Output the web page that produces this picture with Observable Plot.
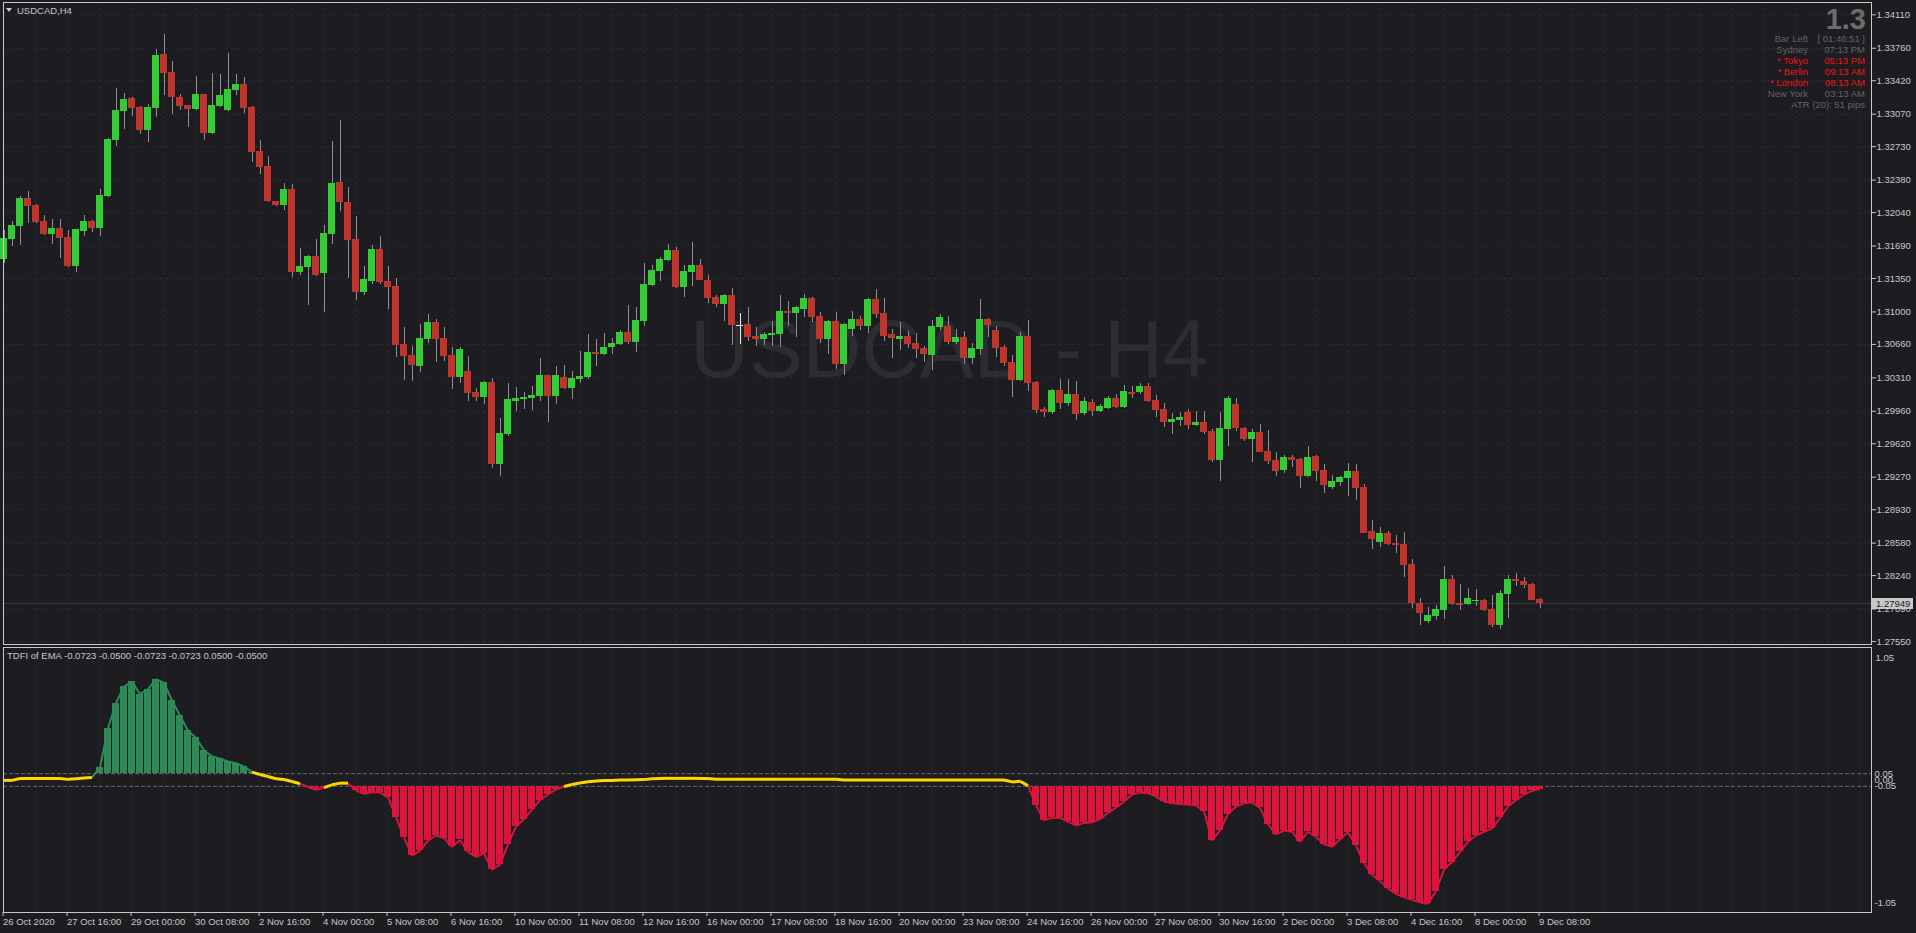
<!DOCTYPE html>
<html><head><meta charset="utf-8">
<script src="https://cdn.jsdelivr.net/npm/d3@7"></script>
<script src="https://cdn.jsdelivr.net/npm/@observablehq/plot@0.6"></script>
<style>
html,body{margin:0;padding:0;background:#1c1c21;}
#wrap{position:relative;width:1916px;height:933px;overflow:hidden;background:#1c1c21;font-family:"Liberation Sans",Arial,sans-serif;}
#wrap svg{position:absolute;left:0;overflow:visible;}
.t{position:absolute;white-space:nowrap;font-size:9.5px;line-height:11px;}
</style></head><body><div id="wrap"></div>
<script>
// ---------- DATA ----------
const symbolTitle = "USDCAD,H4";
const watermark = "USDCAD - H4";
const indicatorTitle = "TDFI of EMA -0.0723 -0.0500 -0.0723 -0.0723 0.0500 -0.0500";
const lastPrice = 1.27949;

const xLabels = ["26 Oct 2020","27 Oct 16:00","29 Oct 00:00","30 Oct 08:00","2 Nov 16:00","4 Nov 00:00","5 Nov 08:00","6 Nov 16:00","10 Nov 00:00","11 Nov 08:00","12 Nov 16:00","16 Nov 00:00","17 Nov 08:00","18 Nov 16:00","20 Nov 00:00","23 Nov 08:00","24 Nov 16:00","26 Nov 00:00","27 Nov 08:00","30 Nov 16:00","2 Dec 00:00","3 Dec 08:00","4 Dec 16:00","8 Dec 00:00","9 Dec 08:00"];
const xLabelBars = [0,8,16,24,32,40,48,56,64,72,80,88,96,104,112,120,128,136,144,152,160,168,176,184,192];

const priceTicks = [1.34110,1.33760,1.33420,1.33070,1.32730,1.32380,1.32040,1.31690,1.31350,1.31000,1.30660,1.30310,1.29960,1.29620,1.29270,1.28930,1.28580,1.28240,1.27890,1.27550];

const open = [1.31549,1.31758,1.31894,1.32187,1.32114,1.31947,1.31811,1.31873,1.31779,1.31476,
1.31842,1.31947,1.31873,1.32208,1.32794,1.33098,1.33234,1.33140,1.32899,1.33129,
1.33695,1.33506,1.33245,1.33161,1.33119,1.33276,1.32868,1.33150,1.33109,1.33318,
1.33381,1.33140,1.32679,1.32522,1.32156,1.32114,1.32282,1.31413,1.31465,1.31580,
1.31402,1.31811,1.32355,1.32145,1.31758,1.31203,1.31318,1.31653,1.31318,1.31266,
1.30659,1.30544,1.30429,1.30711,1.30889,1.30722,1.30544,1.30314,1.30376,1.30156,
1.30104,1.30261,1.29403,1.29717,1.30062,1.30083,1.30094,1.30115,1.30335,1.30115,
1.30314,1.30198,1.30293,1.30314,1.30575,1.30554,1.30628,1.30659,1.30785,1.30680,
1.30900,1.31277,1.31423,1.31538,1.31643,1.31256,1.31413,1.31486,1.31329,1.31151,
1.31078,1.31172,1.30858,1.30868,1.30743,1.30711,1.30753,1.30764,1.31004,1.30984,
1.31025,1.31140,1.30952,1.30711,1.30900,1.30450,1.30816,1.30921,1.30847,1.31130,
1.30984,1.30764,1.30711,1.30743,1.30670,1.30617,1.30544,1.30837,1.30847,1.30680,
1.30732,1.30513,1.30607,1.30921,1.30806,1.30628,1.30471,1.30282,1.30743,1.30261,
1.29979,1.29947,1.30177,1.30041,1.30136,1.29937,1.30052,1.29958,1.29989,1.30094,
1.30000,1.30156,1.30156,1.30219,1.30073,1.29979,1.29843,1.29864,1.29947,1.29811,
1.29843,1.29748,1.29445,1.29769,1.30031,1.29780,1.29665,1.29738,1.29539,1.29445,
1.29340,1.29476,1.29455,1.29277,1.29487,1.29340,1.29162,1.29214,1.29256,1.29330,
1.29162,1.28702,1.28586,1.28681,1.28576,1.28565,1.28356,1.27948,1.27759,1.27812,
1.27874,1.28199,1.27948,1.27937,1.27969,1.27979,1.27885,1.27717,1.28042,1.28199,
1.28178,1.28147,1.27990];
const high = [1.31852,1.31947,1.32208,1.32261,1.32124,1.32009,1.31968,1.31968,1.31852,1.31863,
1.32009,1.31957,1.32282,1.32815,1.33339,1.33287,1.33245,1.33150,1.33171,1.33747,
1.33904,1.33622,1.33276,1.33161,1.33464,1.33276,1.33496,1.33485,1.33705,1.33485,
1.33454,1.33150,1.32794,1.32627,1.32156,1.32344,1.32334,1.31664,1.31591,1.31758,
1.31905,1.32784,1.33000,1.32302,1.31999,1.31476,1.31695,1.31790,1.31476,1.31350,
1.30837,1.30638,1.30868,1.30973,1.30921,1.30837,1.30628,1.30628,1.30533,1.30198,
1.30272,1.30303,1.29884,1.30251,1.30209,1.30156,1.30219,1.30513,1.30335,1.30429,
1.30439,1.30376,1.30586,1.30764,1.30711,1.30774,1.30722,1.30806,1.31067,1.31046,
1.31507,1.31486,1.31570,1.31706,1.31674,1.31486,1.31727,1.31549,1.31381,1.31172,
1.31182,1.31245,1.30984,1.31046,1.30837,1.30785,1.30900,1.31172,1.31109,1.31057,
1.31182,1.31151,1.30994,1.30910,1.30994,1.30879,1.31004,1.30952,1.31140,1.31235,
1.31140,1.30816,1.30889,1.30795,1.30774,1.30638,1.30910,1.30973,1.30952,1.30816,
1.30795,1.30670,1.31130,1.30931,1.30847,1.30649,1.30544,1.30785,1.30910,1.30272,
1.30000,1.30188,1.30293,1.30293,1.30272,1.30104,1.30083,1.30031,1.30115,1.30136,
1.30230,1.30219,1.30251,1.30251,1.30125,1.30041,1.29937,1.29947,1.29979,1.29958,
1.29958,1.29769,1.29947,1.30115,1.30094,1.29790,1.29769,1.29822,1.29759,1.29528,
1.29497,1.29497,1.29466,1.29591,1.29497,1.29403,1.29288,1.29277,1.29413,1.29403,
1.29194,1.28817,1.28743,1.28702,1.28660,1.28691,1.28408,1.28000,1.27906,1.27927,
1.28335,1.28241,1.28147,1.28105,1.28094,1.27990,1.28032,1.28084,1.28241,1.28262,
1.28220,1.28157,1.28000];
const low = [1.31507,1.31685,1.31695,1.31926,1.31926,1.31800,1.31706,1.31559,1.31465,1.31413,
1.31790,1.31831,1.31790,1.32198,1.32732,1.32910,1.33046,1.32857,1.32774,1.33035,
1.33266,1.33067,1.33109,1.32931,1.33109,1.32794,1.32857,1.33140,1.33098,1.33266,
1.33077,1.32564,1.32439,1.32145,1.32104,1.32062,1.31360,1.31381,1.31067,1.31371,
1.30994,1.31706,1.32051,1.31350,1.31120,1.31172,1.31287,1.31287,1.31025,1.30523,
1.30282,1.30272,1.30366,1.30670,1.30471,1.30481,1.30188,1.30251,1.30062,1.30062,
1.30031,1.29361,1.29277,1.29696,1.29958,1.29979,1.29968,1.30062,1.29843,1.30031,
1.30188,1.30083,1.30251,1.30293,1.30429,1.30544,1.30554,1.30649,1.30659,1.30575,
1.30847,1.31266,1.31318,1.31528,1.31245,1.31151,1.31266,1.31329,1.31088,1.31046,
1.30900,1.30649,1.30659,1.30690,1.30638,1.30649,1.30638,1.30628,1.30847,1.30732,
1.30942,1.30889,1.30670,1.30554,1.30397,1.30335,1.30743,1.30806,1.30774,1.30931,
1.30690,1.30513,1.30596,1.30617,1.30513,1.30471,1.30387,1.30806,1.30659,1.30659,
1.30450,1.30450,1.30544,1.30732,1.30523,1.30429,1.30104,1.30272,1.30167,1.29937,
1.29895,1.29926,1.29979,1.30010,1.29864,1.29916,1.29905,1.29947,1.29979,1.29989,
1.29989,1.30094,1.30136,1.30052,1.29895,1.29790,1.29717,1.29801,1.29769,1.29801,
1.29717,1.29424,1.29225,1.29591,1.29748,1.29644,1.29424,1.29528,1.29403,1.29277,
1.29309,1.29371,1.29152,1.29267,1.29225,1.29099,1.29141,1.29173,1.29068,1.29026,
1.28681,1.28513,1.28534,1.28555,1.28471,1.28220,1.27896,1.27717,1.27738,1.27770,
1.27780,1.27927,1.27874,1.27927,1.27916,1.27864,1.27697,1.27676,1.27791,1.28126,
1.28105,1.27979,1.27896];
const close = [1.31769,1.31905,1.32187,1.32104,1.31936,1.31811,1.31873,1.31769,1.31476,1.31863,
1.31947,1.31873,1.32219,1.32805,1.33109,1.33224,1.33129,1.32899,1.33140,1.33684,
1.33496,1.33245,1.33150,1.33119,1.33276,1.32868,1.33161,1.33266,1.33328,1.33381,
1.33129,1.32669,1.32512,1.32156,1.32114,1.32282,1.31413,1.31476,1.31580,1.31381,
1.31821,1.32344,1.32145,1.31748,1.31203,1.31339,1.31653,1.31308,1.31256,1.30649,
1.30533,1.30439,1.30722,1.30889,1.30711,1.30533,1.30314,1.30607,1.30146,1.30104,
1.30261,1.29403,1.29727,1.30083,1.30094,1.30104,1.30125,1.30335,1.30115,1.30335,
1.30198,1.30303,1.30324,1.30575,1.30554,1.30628,1.30670,1.30785,1.30680,1.30910,
1.31287,1.31434,1.31549,1.31643,1.31256,1.31423,1.31486,1.31329,1.31140,1.31078,
1.31172,1.30858,1.30858,1.30732,1.30711,1.30764,1.30774,1.31004,1.30984,1.31046,
1.31140,1.30942,1.30711,1.30900,1.30450,1.30868,1.30921,1.30847,1.31130,1.30973,
1.30743,1.30722,1.30743,1.30659,1.30607,1.30554,1.30847,1.30942,1.30680,1.30732,
1.30513,1.30617,1.30921,1.30858,1.30617,1.30460,1.30282,1.30743,1.30251,1.29968,
1.29947,1.30177,1.30041,1.30136,1.29926,1.30062,1.29958,1.30010,1.30094,1.30000,
1.30167,1.30146,1.30219,1.30062,1.29968,1.29843,1.29874,1.29895,1.29811,1.29843,
1.29738,1.29445,1.29780,1.30094,1.29780,1.29665,1.29738,1.29528,1.29434,1.29330,
1.29476,1.29445,1.29277,1.29476,1.29330,1.29183,1.29225,1.29267,1.29330,1.29152,
1.28681,1.28618,1.28681,1.28565,1.28555,1.28346,1.27948,1.27843,1.27822,1.27885,
1.28199,1.27937,1.27937,1.28000,1.27979,1.27874,1.27717,1.28053,1.28199,1.28178,
1.28136,1.27979,1.27949];

const tdfi = [-0.003,-0.003,0.012,0.012,0.012,0.012,0.012,0.012,0.005,0.010,
0.015,0.020,0.100,0.410,0.610,0.740,0.780,0.680,0.720,0.800,
0.770,0.630,0.510,0.390,0.335,0.234,0.187,0.168,0.147,0.133,
0.107,0.062,0.044,0.028,0.010,0.004,-0.012,-0.030,-0.055,-0.078,
-0.060,-0.038,-0.025,-0.025,-0.083,-0.110,-0.097,-0.100,-0.136,-0.295,
-0.454,-0.600,-0.560,-0.480,-0.440,-0.460,-0.530,-0.475,-0.570,-0.610,
-0.580,-0.710,-0.670,-0.510,-0.370,-0.310,-0.235,-0.160,-0.115,-0.075,
-0.052,-0.036,-0.024,-0.014,-0.008,-0.004,-0.003,0.000,0.000,0.002,
0.003,0.010,0.012,0.013,0.013,0.013,0.013,0.012,0.012,0.006,
0.006,0.006,0.006,0.006,0.006,0.006,0.006,0.006,0.006,0.006,
0.006,0.006,0.006,0.006,0.006,0.000,0.000,0.000,0.000,0.000,
0.000,0.000,0.000,0.000,0.000,0.000,0.000,0.000,0.000,0.000,
0.000,0.000,0.000,0.000,0.000,0.000,-0.015,-0.010,-0.045,-0.200,
-0.320,-0.300,-0.300,-0.330,-0.360,-0.340,-0.335,-0.310,-0.260,-0.220,
-0.170,-0.115,-0.100,-0.105,-0.130,-0.170,-0.185,-0.190,-0.195,-0.200,
-0.250,-0.480,-0.400,-0.270,-0.210,-0.185,-0.176,-0.220,-0.350,-0.430,
-0.400,-0.410,-0.490,-0.410,-0.450,-0.510,-0.530,-0.470,-0.415,-0.520,
-0.660,-0.750,-0.800,-0.860,-0.900,-0.930,-0.950,-0.970,-0.980,-0.880,
-0.710,-0.650,-0.570,-0.490,-0.440,-0.410,-0.385,-0.300,-0.210,-0.160,
-0.115,-0.085,-0.0723];
const levelUp = 0.05, levelDown = -0.05;

const infoBig = "1.3";
const infoLabels = ["Bar Left","Sydney","* Tokyo","* Berlin","* London","New York"];
const infoValues = ["[ 01:46:51 ]","07:13 PM","05:13 PM","09:13 AM","08:13 AM","03:13 AM"];
const infoActive = [false,false,true,true,true,false];
const atrText = "ATR (20): 51 pips";

// ---------- STYLE ----------
const BG = "#1c1c21", FG = "#c8c8c8", GRID = "#2b2b31";
const UP = "#32cd32", DOWN = "#c1342b", WICK = "#8e8e8e", DOJI = "#e6e6e6";
const FONT = "'Liberation Sans', Arial, sans-serif";
const xDomain = [-0.0625, 233.4375];
const gridBars = d3.range(0, 234, 4);
const half = 0.4375;

const bars = open.map((o, i) => ({i, open: o, high: high[i], low: low[i], close: close[i]}));
const dir = d => d.close > d.open ? "up" : d.close < d.open ? "down" : "flat";
const bodyColor = d => dir(d) === "up" ? UP : dir(d) === "down" ? DOWN : DOJI;
const labelMap = new Map(xLabelBars.map((b, k) => [b, xLabels[k]]));

const wrap = document.getElementById("wrap");

const main = Plot.plot({
  width: 1916, height: 645,
  marginLeft: 3, marginRight: 45, marginTop: 2, marginBottom: 1,
  x: {domain: xDomain, axis: null},
  y: {domain: [1.27519, 1.34239], axis: null},
  color: {type: "identity"},
  style: {background: "transparent", color: FG, fontFamily: FONT, fontSize: "9.5px"},
  marks: [
    Plot.ruleY(priceTicks, {stroke: GRID, strokeDasharray: "3,3"}),
    Plot.ruleX(gridBars, {stroke: GRID, strokeDasharray: "3,3"}),
    Plot.text([watermark], {frameAnchor: "middle", dx: 11.5, dy: 28, fontSize: 81, fill: "#2c2c31", fontFamily: FONT}),
    Plot.ruleY([lastPrice], {stroke: "#3a3a3f"}),
    Plot.ruleX(bars, {x: "i", y1: "low", y2: "high", stroke: d => dir(d) === "flat" ? DOJI : WICK, shapeRendering: "crispEdges"}),
    Plot.rect(bars.filter(d => dir(d) !== "flat"), {x1: d => d.i - half, x2: d => d.i + half, y1: "open", y2: "close", fill: bodyColor, shapeRendering: "crispEdges"}),
    Plot.ruleY(bars.filter(d => Math.abs(d.close - d.open) < 0.00012), {y: "close", x1: d => d.i - half, x2: d => d.i + half, stroke: bodyColor, shapeRendering: "crispEdges"}),
    Plot.axisY({anchor: "right", ticks: priceTicks, tickFormat: d => d.toFixed(5), tickSize: 4, tickPadding: 1, stroke: FG, fill: FG}),
    Plot.frame({stroke: FG})
  ]
});
main.style.top = "0px";
wrap.appendChild(main);

const ind = tdfi.map((v, i) => ({i, v}));
const state = v => v > levelUp ? "up" : v < levelDown ? "down" : "flat";
const segs = ind.slice(1).map((d, k) => ({x1: ind[k].i, y1: ind[k].v, x2: d.i, y2: d.v, s: state(d.v)}));
const segColor = s => s === "up" ? "#2e8b57" : s === "down" ? "#dc143c" : "#ffd700";

const sub = Plot.plot({
  width: 1916, height: 287,
  marginLeft: 3, marginRight: 45, marginTop: 1, marginBottom: 21,
  x: {domain: xDomain, axis: null},
  y: {domain: [-1.05, 1.05], axis: null},
  color: {type: "identity"},
  style: {background: "transparent", color: FG, fontFamily: FONT, fontSize: "9.5px"},
  marks: [
    Plot.ruleX(gridBars, {stroke: GRID, strokeDasharray: "3,3"}),
    Plot.ruleY([levelUp, levelDown], {stroke: "#6e6e6e", strokeDasharray: "4,2"}),
    Plot.rect(ind.filter(d => d.v > levelUp), {x1: d => d.i - half, x2: d => d.i + half, y1: levelUp, y2: "v", fill: "#2e8b57", shapeRendering: "crispEdges"}),
    Plot.rect(ind.filter(d => d.v < levelDown), {x1: d => d.i - half, x2: d => d.i + half, y1: levelDown, y2: "v", fill: "#dc143c", shapeRendering: "crispEdges"}),
    Plot.link(segs.filter(d => d.s !== "flat"), {x1: "x1", y1: "y1", x2: "x2", y2: "y2", stroke: d => segColor(d.s), strokeWidth: 2}),
    Plot.link(segs.filter(d => d.s === "flat"), {x1: "x1", y1: "y1", x2: "x2", y2: "y2", stroke: d => segColor(d.s), strokeWidth: 3}),
    Plot.axisX({anchor: "bottom", ticks: xLabelBars, tickFormat: d => labelMap.get(d), tickSize: 4, tickPadding: 2, textAnchor: "start", dx: -1, stroke: FG, fill: FG}),
    Plot.axisY({anchor: "right", ticks: [levelUp, 0, levelDown], tickFormat: d => d.toFixed(2), tickSize: 0, tickPadding: 3, fill: FG}),
    Plot.text(["1.05"], {frameAnchor: "top-right", dx: 4, dy: 7, textAnchor: "start", fill: FG}),
    Plot.text(["-1.05"], {frameAnchor: "bottom-right", dx: 3, dy: -6.5, textAnchor: "start", fill: FG}),
    Plot.frame({stroke: FG})
  ]
});
sub.style.top = "646px";
wrap.appendChild(sub);

// ---------- HTML text overlays ----------
function addText(txt, css) {
  const el = document.createElement("div");
  el.className = "t";
  el.textContent = txt;
  Object.assign(el.style, css);
  wrap.appendChild(el);
  return el;
}
const tri = document.createElement("div");
Object.assign(tri.style, {position: "absolute", left: "6px", top: "8px", width: 0, height: 0,
  borderLeft: "3.5px solid transparent", borderRight: "3.5px solid transparent", borderTop: "4px solid " + FG});
wrap.appendChild(tri);
addText(symbolTitle, {left: "17px", top: "5px", color: FG});
addText(indicatorTitle, {left: "7px", top: "650px", color: FG});

addText(infoBig, {right: (1916 - 1866) + "px", top: "5px", fontSize: "29px", lineHeight: "29px", fontWeight: "bold", color: "#6c6c6c"});
infoLabels.forEach((lab, k) => {
  const col = infoActive[k] ? "#f01414" : "#646464";
  const top = (38.7 + 10.9 * k - 5.4) + "px";
  addText(lab, {right: (1916 - 1808) + "px", top, color: col});
  addText(infoValues[k], {right: (1916 - 1865) + "px", top, color: col});
});
addText(atrText, {right: (1916 - 1865) + "px", top: (38.7 + 10.9 * 6 - 5.4) + "px", color: "#646464"});

addText(lastPrice.toFixed(5), {left: "1872px", top: "598px", width: "37px", height: "11px", paddingLeft: "4px",
  background: "#c8c8c8", color: BG});
</script>
</body></html>
